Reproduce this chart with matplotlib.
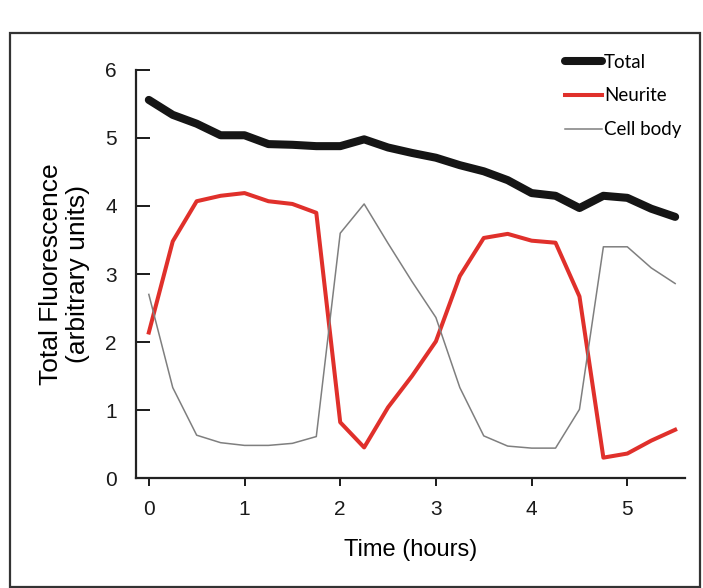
import numpy as np
import matplotlib
matplotlib.use("Agg")
import matplotlib.pyplot as plt
from matplotlib.patches import Rectangle

plt.rcParams['font.family'] = ['Liberation Sans', 'DejaVu Sans']

time_h = [0, 0.25, 0.5, 0.75, 1.0, 1.25, 1.5, 1.75, 2.0, 2.25, 2.5, 2.75,
          3.0, 3.25, 3.5, 3.75, 4.0, 4.25, 4.5, 4.75, 5.0, 5.25, 5.5]
total = [5.56, 5.34, 5.21, 5.04, 5.04, 4.91, 4.90, 4.88, 4.88, 4.98, 4.86, 4.78,
         4.71, 4.60, 4.51, 4.38, 4.19, 4.15, 3.97, 4.15, 4.12, 3.96, 3.84]
neurite = [2.14, 3.48, 4.07, 4.15, 4.19, 4.07, 4.03, 3.90, 0.82, 0.45, 1.04, 1.50,
           2.01, 2.97, 3.53, 3.59, 3.49, 3.46, 2.67, 0.30, 0.36, 0.55, 0.71]
cell_body = [2.70, 1.33, 0.63, 0.52, 0.48, 0.48, 0.51, 0.61, 3.60, 4.03, 3.45, 2.89,
             2.36, 1.33, 0.62, 0.47, 0.44, 0.44, 1.01, 3.40, 3.40, 3.09, 2.86]


def main():
    fig = plt.figure(figsize=(7.03, 5.88), dpi=100)
    ax = fig.add_axes([0.194, 0.187, 0.780, 0.694])

    ax.plot(time_h, total, color='#151515', lw=5.8, solid_capstyle='round',
            solid_joinstyle='round', label='Total')
    ax.plot(time_h, neurite, color='#e0302b', lw=2.9, solid_joinstyle='round',
            label='Neurite')
    ax.plot(time_h, cell_body, color='#7f7f7f', lw=1.1, label='Cell body')

    ax.set_xlim(-0.13, 5.6)
    ax.set_ylim(0, 6)
    ax.set_xticks(range(6))
    ax.set_yticks(range(7))
    ax.spines['top'].set_visible(False)
    ax.spines['right'].set_visible(False)
    for s in ('left', 'bottom'):
        ax.spines[s].set_linewidth(1.6)
        ax.spines[s].set_color('#222222')
    ax.tick_params(axis='x', direction='out', length=6, width=1.4,
                   labelsize=15, pad=10, colors='#1a1a1a')
    ax.tick_params(axis='y', direction='in', length=10, width=1.4,
                   labelsize=15, pad=14, colors='#1a1a1a')

    ax.set_xlabel('Time (hours)', fontsize=17, labelpad=14)
    ax.set_ylabel('Total Fluorescence\n(arbitrary units)', fontsize=19,
                  labelpad=11, linespacing=1.15)

    ax.legend(loc='upper right', bbox_to_anchor=(689 / 703, 1 - 46 / 588),
              bbox_transform=fig.transFigure, frameon=False,
              prop={'family': 'Lato', 'size': 13.5},
              handlelength=2.0, handletextpad=0.1, labelspacing=0.9,
              borderaxespad=0)

    # scanned figure frame
    fig.patches.append(Rectangle((10 / 703, 1 / 588), 690 / 703, 554 / 588,
                                 transform=fig.transFigure, fill=False,
                                 lw=1.6, edgecolor='#333333'))

    fig.savefig('out.png', dpi=100)


if __name__ == "__main__":
    main()
